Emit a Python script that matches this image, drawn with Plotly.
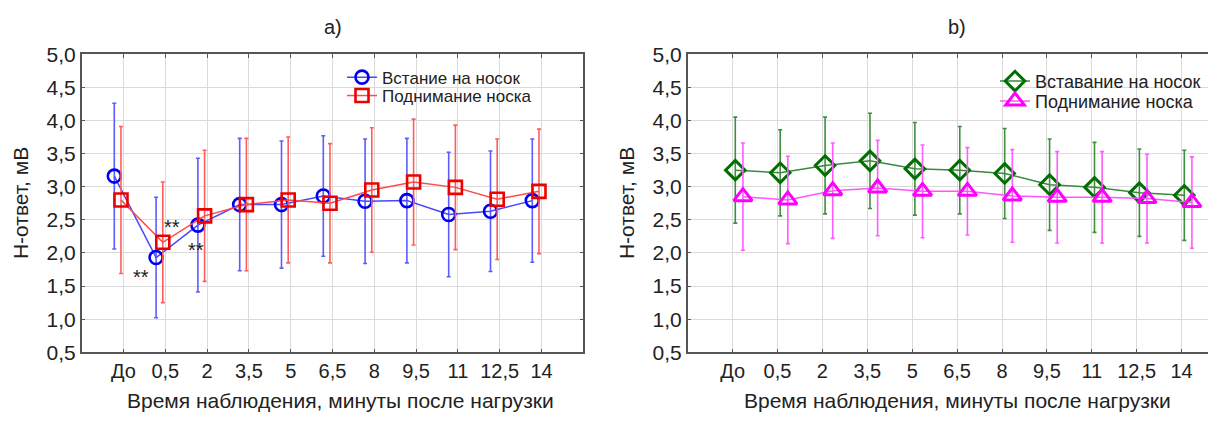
import plotly.graph_objects as go

# ---------------- data ----------------
categories = ["До", "0,5", "2", "3,5", "5", "6,5", "8", "9,5", "11", "12,5", "14"]

# panel a)
a_stand = [3.16, 1.93, 2.42, 2.73, 2.73, 2.86, 2.78, 2.79, 2.58, 2.63, 2.79]
a_stand_err = [1.10, 0.91, 1.01, 1.00, 0.96, 0.91, 0.94, 0.94, 0.94, 0.91, 0.93]
a_lift = [2.80, 2.16, 2.56, 2.73, 2.80, 2.75, 2.95, 3.07, 2.99, 2.81, 2.93]
a_lift_err = [1.11, 0.91, 0.99, 1.00, 0.95, 0.90, 0.94, 0.95, 0.94, 0.91, 0.94]

# panel b)
b_stand = [3.25, 3.21, 3.32, 3.39, 3.27, 3.25, 3.20, 3.03, 2.99, 2.91, 2.87]
b_stand_err = [0.80, 0.65, 0.73, 0.72, 0.70, 0.66, 0.68, 0.69, 0.68, 0.66, 0.68]
b_lift = [2.85, 2.80, 2.94, 2.98, 2.93, 2.93, 2.86, 2.84, 2.84, 2.82, 2.76]
b_lift_err = [0.81, 0.66, 0.72, 0.72, 0.70, 0.66, 0.70, 0.69, 0.69, 0.67, 0.69]

y_ticks = [0.5, 1.0, 1.5, 2.0, 2.5, 3.0, 3.5, 4.0, 4.5, 5.0]
y_ticktext = ["0,5", "1,0", "1,5", "2,0", "2,5", "3,0", "3,5", "4,0", "4,5", "5,0"]

names_a = ["Встание на носок", "Поднимание носка"]
names_b = ["Вставание на носок", "Поднимание носка"]
x_title = "Время наблюдения, минуты после нагрузки"
y_title = "Н-ответ, мВ"

# ---------------- figure ----------------
PAGE_W, PAGE_H = 1216, 426
OFF = 8                      # default body margin of the html page
W, H = PAGE_W - OFF, PAGE_H - 2 * OFF   # right panel runs to the window edge
FONT = "Liberation Sans, Arial, sans-serif"
TXT = "#222222"
idx = list(range(len(categories)))


def px(x):
    return (x - OFF) / W


def py(y):
    return 1 - (y - OFF) / H


def shifted(d):
    return [i + d for i in idx]


fig = go.Figure()

fig.add_trace(go.Scatter(
    x=shifted(-0.22), y=a_stand, name=names_a[0], mode="lines+markers",
    line=dict(color="#4848ff", width=1.5),
    marker=dict(symbol="circle-open", size=13, color="#0000ee", line=dict(width=2.6)),
    error_y=dict(type="data", array=a_stand_err, color="#5c5cff", thickness=1.6, width=2),
    xaxis="x", yaxis="y", legend="legend"))
fig.add_trace(go.Scatter(
    x=shifted(-0.06), y=a_lift, name=names_a[1], mode="lines+markers",
    line=dict(color="#ff4a4a", width=1.5),
    marker=dict(symbol="square-open", size=13, color="#ee0000", line=dict(width=2.6)),
    error_y=dict(type="data", array=a_lift_err, color="#ff5c5c", thickness=1.6, width=2),
    xaxis="x", yaxis="y", legend="legend3"))

fig.add_trace(go.Scatter(
    x=shifted(0.06), y=b_stand, name=names_b[0], mode="lines+markers",
    line=dict(color="#3a8a3a", width=1.5),
    marker=dict(symbol="diamond-open", size=15, color="#006e00", line=dict(width=3)),
    error_y=dict(type="data", array=b_stand_err, color="#3f8f3f", thickness=1.6, width=2),
    xaxis="x2", yaxis="y2", legend="legend2"))
fig.add_trace(go.Scatter(
    x=shifted(0.23), y=b_lift, name=names_b[1], mode="lines+markers",
    line=dict(color="#ff55ff", width=1.5),
    marker=dict(symbol="triangle-up-open", size=16, color="#ff00ff", line=dict(width=3)),
    error_y=dict(type="data", array=b_lift_err, color="#ff5cff", thickness=1.6, width=2),
    xaxis="x2", yaxis="y2", legend="legend4"))

axis_common = dict(
    showgrid=True, gridcolor="#dadada", gridwidth=1,
    showline=True, linecolor="#555555", linewidth=1.5,
    ticks="inside", ticklen=4, tickcolor="#555555", tickwidth=1,
    zeroline=False,
)
xfont = dict(family=FONT, size=20, color=TXT)
yfont = dict(family=FONT, size=21, color=TXT)

# plot areas in page pixels (as in the reference)
A_L, A_R = 81.7, 583.3
B_L = 687.7
TOP, BOT = 44.3, 360.0
B_UNIT = 44.9
b_xmax = -1 + ((W + OFF) - B_L) / B_UNIT

y_dom = [py(BOT), py(TOP)]
xa_dom = [px(A_L), px(A_R)]
xb_dom = [px(B_L), 1.0]


def leg(xpx, ypx, size):
    return dict(x=px(xpx), y=py(ypx), xanchor="left", yanchor="middle",
                bgcolor="rgba(0,0,0,0)", borderwidth=0,
                font=dict(family=FONT, size=size, color=TXT), itemwidth=30)


fig.update_layout(
    width=W, height=H,
    margin=dict(l=0, r=0, t=0, b=0),
    paper_bgcolor="white", plot_bgcolor="white",
    font=dict(family=FONT, color=TXT),
    xaxis=dict(domain=xa_dom, range=[-1, 11], tickvals=idx, ticktext=categories,
               anchor="y", mirror="ticks", tickfont=xfont, **axis_common),
    yaxis=dict(domain=y_dom, range=[0.5, 5.0], tickvals=y_ticks, ticktext=y_ticktext,
               anchor="x", mirror="ticks", tickfont=yfont, **axis_common),
    xaxis2=dict(domain=xb_dom, range=[-1, b_xmax], tickvals=idx, ticktext=categories,
                anchor="y2", mirror="ticks", tickfont=xfont, **axis_common),
    yaxis2=dict(domain=y_dom, range=[0.5, 5.0], tickvals=y_ticks, ticktext=y_ticktext,
                anchor="x2", mirror=False, tickfont=yfont, **axis_common),
    legend=leg(342, 69, 17),
    legend3=leg(342, 88.5, 17),
    legend2=leg(995, 73, 18),
    legend4=leg(995, 94, 18),
    showlegend=True,
)

ann = []
center = dict(xref="paper", yref="paper", xanchor="center", yanchor="middle", showarrow=False)
# panel titles
ann.append(dict(text="a)", x=px((A_L + A_R) / 2), y=py(15),
                font=dict(size=20, family=FONT, color=TXT), **center))
ann.append(dict(text="b)", x=px(957), y=py(15),
                font=dict(size=20, family=FONT, color=TXT), **center))
# axis titles
for xc in [(A_L + A_R) / 2 + 8, 957]:
    ann.append(dict(text=x_title, x=px(xc), y=py(411),
                    font=dict(size=21, family=FONT, color=TXT), **center))
for xc in [20, 626]:
    ann.append(dict(text=y_title, x=px(xc), y=py(202), textangle=-90,
                    font=dict(size=21, family=FONT, color=TXT), **center))
# significance marks
for (xp, yp) in [(0.41, 1.63), (1.17, 2.39), (1.73, 2.05)]:
    ann.append(dict(text="**", x=xp, y=yp, xref="x", yref="y", showarrow=False,
                    xanchor="center", yanchor="middle",
                    font=dict(size=20, family=FONT, color=TXT)))
fig.update_layout(annotations=ann)

fig.write_html("out.html")
